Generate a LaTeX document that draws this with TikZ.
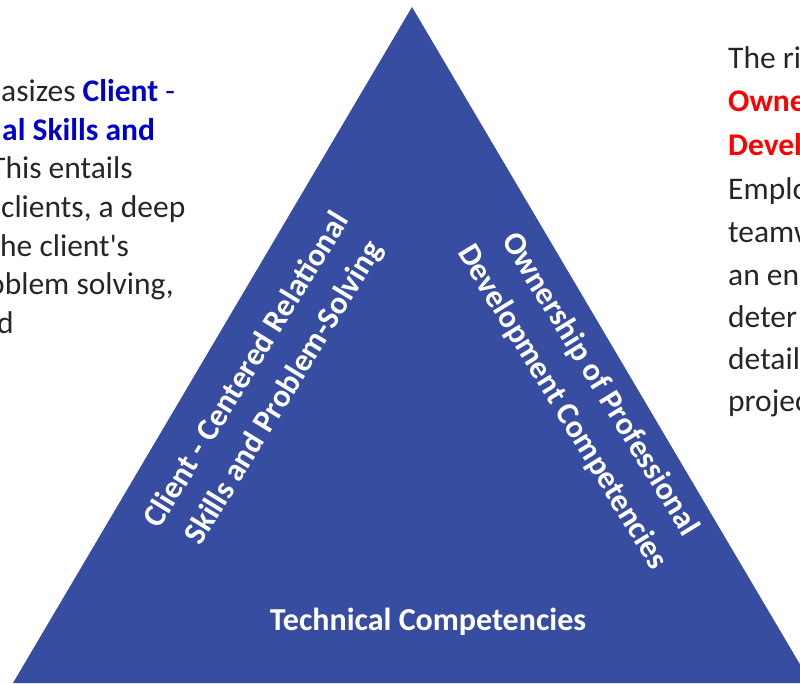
\documentclass[tikz,border=0pt]{standalone}
\usepackage{fontspec}
\setmainfont{Carlito}[Ligatures=TeXOff]
\usepackage{xcolor}
\usepackage{tikz}
\definecolor{trifill}{RGB}{55,77,161}
\definecolor{keyblue}{RGB}{0,0,204}
\definecolor{keyred}{RGB}{255,0,0}
\definecolor{bodytext}{RGB}{38,38,38}
\begin{document}
\begin{tikzpicture}[x=1pt,y=-1pt]
\tikzstyle{body} = [anchor=base west, inner sep=0pt, text=bodytext, font=\fontsize{31.5}{38}\selectfont]
\tikzstyle{side} = [inner sep=0pt, text=white, align=center, font=\fontsize{32}{44}\selectfont\bfseries]

\useasboundingbox (0,0) rectangle (800,683);
\clip (0,0) rectangle (800,683);

% triangle
\coordinate (apex) at (412,7);
\coordinate (baseleft) at (13,683);
\coordinate (baseright) at (811,683);
\fill[trifill] (apex) -- (baseleft) -- (baseright) -- cycle;

% labels inside the triangle
\node (client) [side, rotate=58.5] at (266,382) {Client - Centered Relational\\Skills and Problem-Solving};
\node (ownership) [side, rotate=-58.5] at (581,396) {Ownership of Professional\\Development Competencies};
\node (technical) [side, anchor=base] at (428,630) {Technical Competencies};

% left text, cut by the border
\node (l1) [body] at (1,101) {asizes \textcolor{keyblue}{\textbf{Client} -}};
\node (l2) [body, text=keyblue] at (2,140) {\textbf{al Skills and}};
\node (l3) [body] at (-10,178) {This entails};
\node (l4) [body] at (1,217) {clients, a deep};
\node (l5) [body] at (0,256) {he client's};
\node (l6) [body] at (-12,294) {oblem solving,};
\node (l7) [body] at (-3,333) {d};

% right text, cut by the border
\node (r1) [body] at (728,68) {The ri};
\node (r2) [body, text=keyred] at (728,111) {\textbf{Owne}};
\node (r3) [body, text=keyred] at (728,155) {\textbf{Devel}};
\node (r4) [body] at (728,199) {Emplo};
\node (r5) [body] at (728,242) {teamw};
\node (r6) [body] at (728,285) {an en};
\node (r7) [body] at (728,327) {deter};
\node (r8) [body] at (728,369) {detail};
\node (r9) [body] at (728,411) {projec};
\end{tikzpicture}
\end{document}
